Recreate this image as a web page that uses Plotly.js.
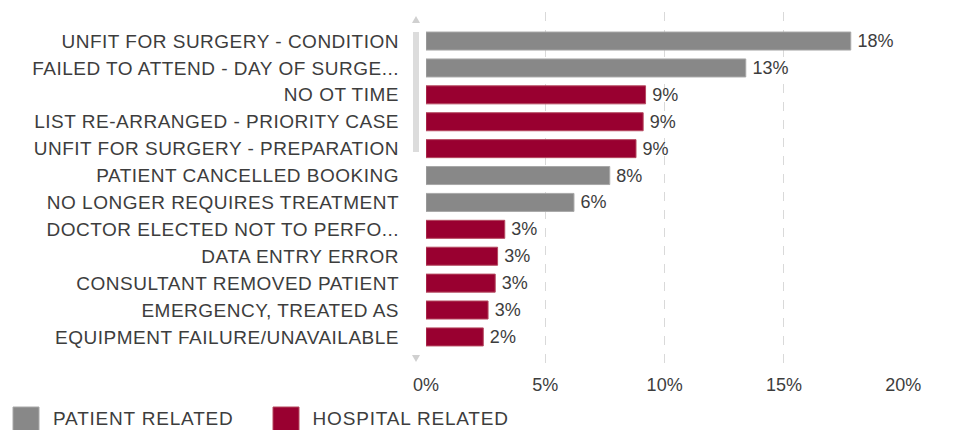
<!DOCTYPE html>
<html>
<head>
<meta charset="utf-8">
<script src="https://cdn.plot.ly/plotly-3.0.1.min.js"></script>
<style>
html,body{margin:0;padding:0;background:#fff;}
#chart{width:976px;height:430px;}
#chart .ytick text{letter-spacing:0.5px;}
#chart .annotation-text{letter-spacing:0.8px;}
</style>
</head>
<body>
<div id="chart"></div>
<script>
// ---- data ----
const categories = [
  "UNFIT FOR SURGERY - CONDITION",
  "FAILED TO ATTEND - DAY OF SURGE...",
  "NO OT TIME",
  "LIST RE-ARRANGED - PRIORITY CASE",
  "UNFIT FOR SURGERY - PREPARATION",
  "PATIENT CANCELLED BOOKING",
  "NO LONGER REQUIRES TREATMENT",
  "DOCTOR ELECTED NOT TO PERFO...",
  "DATA ENTRY ERROR",
  "CONSULTANT REMOVED PATIENT",
  "EMERGENCY, TREATED AS",
  "EQUIPMENT FAILURE/UNAVAILABLE"
];
const values = [17.8, 13.4, 9.2, 9.1, 8.8, 7.7, 6.2, 3.3, 3.0, 2.9, 2.6, 2.4];
const groups = ["Patient","Patient","Hospital","Hospital","Hospital","Patient","Patient","Hospital","Hospital","Hospital","Hospital","Hospital"];
const seriesNames = ["PATIENT RELATED", "HOSPITAL RELATED"];
const seriesKeys = ["Patient", "Hospital"];
const xTicks = [0, 5, 10, 15, 20];

// ---- style ----
const colors = {Patient: "#888888", Hospital: "#990030"};
const lineColors = {Patient: "#a8a8a8", Hospital: "#b5485f"};
const textColor = "#3d3d3d";
const fontFamily = "'Liberation Sans', Arial, sans-serif";

// plot area in pixels
const W = 976, H = 430;
const L = 426, R = 72, T = 12, B = 60;
const PW = W - L - R, PH = H - T - B;
const px = v => (v - L) / PW;
const py = v => (H - B - v) / PH;

const traces = seriesKeys.map((k, i) => {
  const ys = [], xs = [];
  categories.forEach((c, j) => { if (groups[j] === k) { ys.push(c); xs.push(values[j]); } });
  return {
    type: "bar",
    orientation: "h",
    name: seriesNames[i],
    y: ys,
    x: xs,
    marker: {color: colors[k], line: {color: lineColors[k], width: 1}},
    texttemplate: "\u2009%{x:.0f}%",
    textposition: "outside",
    constraintext: "none",
    cliponaxis: false,
    textfont: {family: fontFamily, size: 18, color: textColor},
    hoverinfo: "y+x",
    showlegend: false
  };
});

// legend drawn as shapes + annotations (large swatches)
const legendItems = [
  {key: "Patient", label: seriesNames[0], sx: 13, tx: 57},
  {key: "Hospital", label: seriesNames[1], sx: 273, tx: 317}
];
const shapes = [];
const annotations = [];
legendItems.forEach(it => {
  shapes.push({type: "rect", xref: "paper", yref: "paper",
    x0: px(it.sx), x1: px(it.sx + 26), y0: py(431), y1: py(407),
    fillcolor: colors[it.key], line: {color: lineColors[it.key], width: 1}});
  annotations.push({xref: "paper", yref: "paper", x: px(it.tx), y: py(419),
    xanchor: "left", yanchor: "middle", showarrow: false, text: it.label,
    font: {family: fontFamily, size: 19, color: textColor}});
});
// scrollbar decoration
shapes.push({type: "rect", xref: "paper", yref: "paper",
  x0: px(413), x1: px(419), y0: py(152), y1: py(32),
  fillcolor: "#dcdcdc", line: {width: 0}, layer: "above"});
shapes.push({type: "path", xref: "paper", yref: "paper",
  path: `M ${px(412)} ${py(23)} L ${px(420)} ${py(23)} L ${px(416)} ${py(16)} Z`,
  fillcolor: "#d0d0d0", line: {width: 0}});
shapes.push({type: "path", xref: "paper", yref: "paper",
  path: `M ${px(412)} ${py(355)} L ${px(420)} ${py(355)} L ${px(416)} ${py(362)} Z`,
  fillcolor: "#d0d0d0", line: {width: 0}});

const layout = {
  width: W, height: H,
  margin: {l: L, r: R, t: T, b: B, pad: 0},
  paper_bgcolor: "#ffffff",
  plot_bgcolor: "#ffffff",
  barmode: "overlay",
  bargap: 0.33,
  showlegend: false,
  font: {family: fontFamily, size: 18, color: textColor},
  xaxis: {
    range: [0, 20.03],
    tickvals: xTicks,
    ticktext: xTicks.map(v => v + "%"),
    showgrid: true, griddash: "dash", gridcolor: "#d9d9d9", gridwidth: 1,
    zeroline: false, showline: false, ticks: "",
    tickfont: {family: fontFamily, size: 18, color: textColor},
    ticklabelstandoff: 2,
    fixedrange: true
  },
  yaxis: {
    type: "category",
    categoryorder: "array",
    categoryarray: categories,
    range: [12.23, -1.08],
    showgrid: false, zeroline: false, showline: false, ticks: "",
    tickfont: {family: fontFamily, size: 19, color: textColor},
    ticklabelstandoff: 26,
    fixedrange: true
  },
  shapes: shapes,
  annotations: annotations
};

Plotly.newPlot("chart", traces, layout, {displayModeBar: false, staticPlot: true});
</script>
</body>
</html>
